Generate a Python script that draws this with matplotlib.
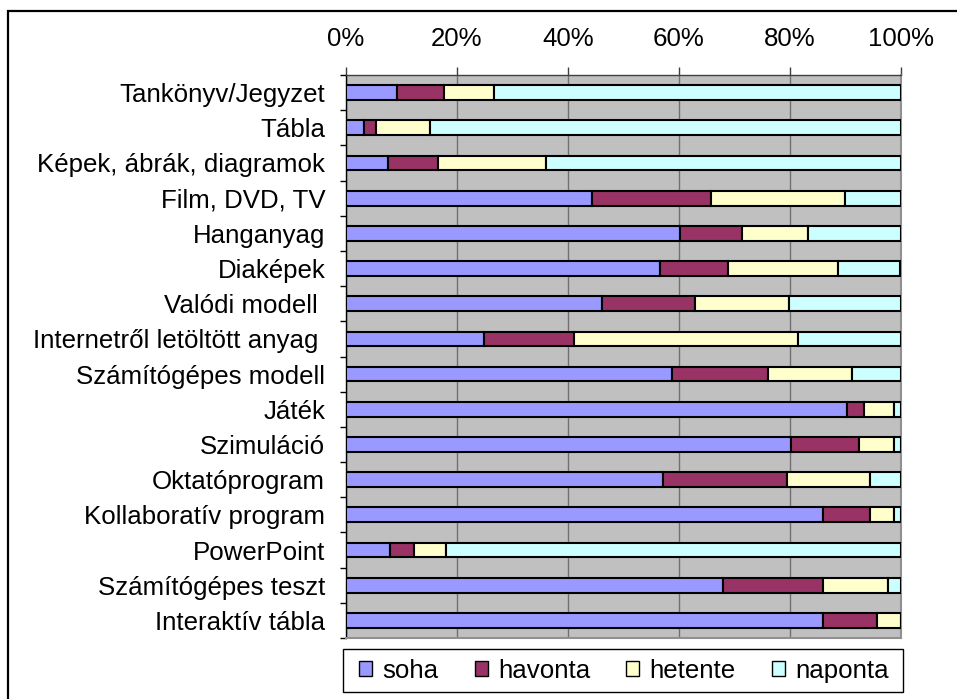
import matplotlib
matplotlib.use("Agg")
import matplotlib.pyplot as plt
from matplotlib.patches import Patch, Rectangle
import numpy as np

plt.rcParams['font.family'] = ['Liberation Sans', 'DejaVu Sans']

# tools / materials, top to bottom
categories = [
    "Tankönyv/Jegyzet",
    "Tábla",
    "Képek, ábrák, diagramok",
    "Film, DVD, TV",
    "Hanganyag",
    "Diaképek",
    "Valódi modell ",
    "Internetről letöltött anyag ",
    "Számítógépes modell",
    "Játék",
    "Szimuláció",
    "Oktatóprogram",
    "Kollaboratív program",
    "PowerPoint",
    "Számítógépes teszt",
    "Interaktív tábla",
]

# share of answers in percent
soha    = [9.1, 3.2, 7.6, 44.4, 60.2, 56.6, 46.2, 24.9, 58.8, 90.2, 80.1, 57.1, 85.9, 7.9, 67.9, 85.9]
havonta = [8.6, 2.2, 9.0, 21.3, 11.2, 12.3, 16.6, 16.2, 17.3, 3.2, 12.3, 22.3, 8.6, 4.4, 18.0, 9.8]
hetente = [9.0, 9.7, 19.5, 24.2, 11.9, 19.8, 17.0, 40.4, 15.1, 5.4, 6.4, 15.1, 4.3, 5.8, 11.8, 4.3]
naponta = [73.3, 84.9, 63.9, 10.1, 16.7, 11.2, 20.2, 18.5, 8.8, 1.2, 1.2, 5.5, 1.2, 81.9, 2.3, 0.0]

series_names = ["soha", "havonta", "hetente", "naponta"]
series_colors = ["#9999FF", "#993366", "#FFFFCC", "#CCFFFF"]
xticks = [0, 20, 40, 60, 80, 100]

FS = 18.6
W, H = 957, 699

fig = plt.figure(figsize=(W/100, H/100), dpi=100)
ax = fig.add_axes([346/W, 1-638/H, (901-346)/W, (638-75)/H])

y = np.arange(len(categories))
left = np.zeros(len(categories))
for vals, name, col in zip([soha, havonta, hetente, naponta], series_names, series_colors):
    vals = np.array(vals)
    ax.barh(y, vals, left=left, height=0.42, color=col, edgecolor='black',
            linewidth=1.5, label=name, zorder=3)
    left = left + vals

ax.set_facecolor('#C0C0C0')
ax.set_xlim(0, 100)
ax.set_ylim(len(categories) - 0.5, -0.5)

# value axis on top
ax.xaxis.tick_top()
ax.set_xticks(xticks)
ax.set_xticklabels([f"{t}%" for t in xticks])
ax.tick_params(axis='x', which='major', top=True, bottom=False, direction='out',
               length=5.8, width=1, color='#404040', pad=11.5, labelsize=FS)
ax.xaxis.grid(True, color='#707070', linewidth=1)
ax.set_axisbelow(True)

# category axis
ax.set_yticks(y)
ax.set_yticklabels(categories)
ax.set_yticks(np.arange(-0.5, len(categories), 1), minor=True)
ax.tick_params(axis='y', which='major', length=0, pad=15, labelsize=FS)
ax.tick_params(axis='y', which='minor', length=4.3, width=1, direction='out', color='black')

ax.spines['left'].set_color('black')
ax.spines['left'].set_linewidth(1)
ax.spines['top'].set_color('#404040')
ax.spines['top'].set_linewidth(1)
ax.spines['right'].set_color('#909090')
ax.spines['right'].set_linewidth(1.5)
ax.spines['bottom'].set_color('#909090')
ax.spines['bottom'].set_linewidth(1.5)

# legend (frame drawn separately so the padding matches)
handles = [Patch(facecolor=c, edgecolor='black', linewidth=1) for c in series_colors]
leg = fig.legend(handles, series_names, loc='center', ncol=4,
                 bbox_to_anchor=(624/W, 1-671/H), fontsize=FS, frameon=False,
                 handlelength=0.5, handleheight=0.5, handletextpad=0.4,
                 columnspacing=1.4, borderpad=0)
fig.patches.append(Rectangle((343/W, 1-692/H), (903-343)/W, 43/H, transform=fig.transFigure,
                             fill=False, edgecolor='black', linewidth=1))

# outer chart border (cropped at right and bottom)
fig.patches.append(Rectangle((8/W, -0.1), 1.2, 1.1 - 11.5/H, transform=fig.transFigure,
                             fill=False, edgecolor='black', linewidth=1.6, clip_on=False))

fig.savefig("out.png", dpi=100)
